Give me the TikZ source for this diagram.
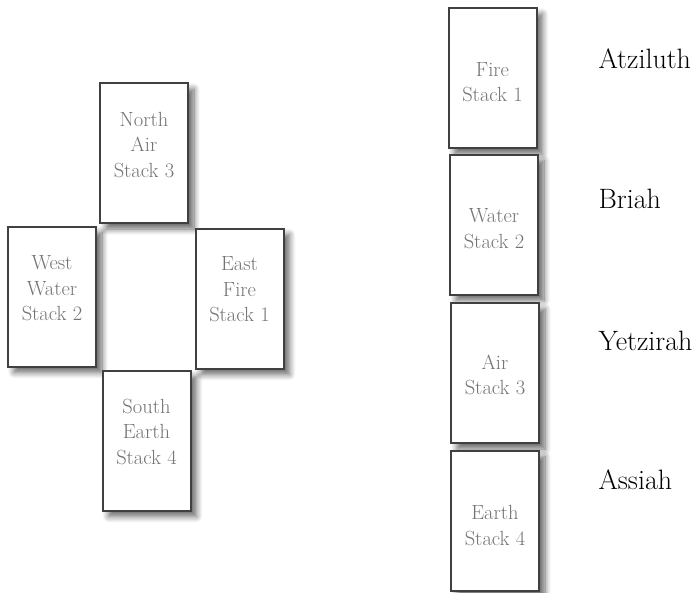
\documentclass[tikz,border=0pt]{standalone}
\usepackage{tikz}
\usetikzlibrary{shadows.blur}

\begin{document}
\begin{tikzpicture}[x=1pt, y=-1pt,
    card/.style={draw=black!75, line width=2pt, fill=white, minimum width=88pt, minimum height=140pt,
      blur shadow={shadow xshift=6pt, shadow yshift=-6pt, shadow blur radius=6pt, shadow blur steps=10, shadow opacity=60}},
    cardtext/.style={align=center, text=black!55, font=\fontsize{20.5}{25.5}\selectfont},
    world/.style={anchor=base west, font=\fontsize{28}{32}\selectfont}]
  \useasboundingbox (0,0) rectangle (696,592);
  % the cross
  \node[card] (north) at (144,153) {};
  \node[card] (west) at (52,296.5) {};
  \node[card] (east) at (239.5,298.5) {};
  \node[card] (south) at (146.5,440.5) {};
  \node[cardtext] (northtxt) at ([yshift=8pt]north.center) {North\\Air\\Stack 3};
  \node[cardtext] (westtxt) at ([yshift=8pt]west.center) {West\\Water\\Stack 2};
  \node[cardtext] (easttxt) at ([yshift=9pt]east.center) {East\\Fire\\Stack 1};
  \node[cardtext] (southtxt) at ([yshift=9pt]south.center) {South\\Earth\\Stack 4};
  % the column
  \node[card] (fire) at (492.5,78) {};
  \node[card] (water) at (494,224.5) {};
  \node[card] (air) at (495,373) {};
  \node[card] (earth) at (495,520.5) {};
  \node[cardtext] (firetxt) at ([yshift=-4pt]fire.center) {Fire\\Stack 1};
  \node[cardtext] (watertxt) at ([yshift=-4pt]water.center) {Water\\Stack 2};
  \node[cardtext] (airtxt) at ([yshift=-2pt]air.center) {Air\\Stack 3};
  \node[cardtext] (earthtxt) at ([yshift=-5pt]earth.center) {Earth\\Stack 4};
  \node[world] (atziluth) at (595,68) {Atziluth};
  \node[world] (briah) at (595,208) {Briah};
  \node[world] (yetzirah) at (595,350) {Yetzirah};
  \node[world] (assiah) at (595,489) {Assiah};
\end{tikzpicture}
\end{document}
